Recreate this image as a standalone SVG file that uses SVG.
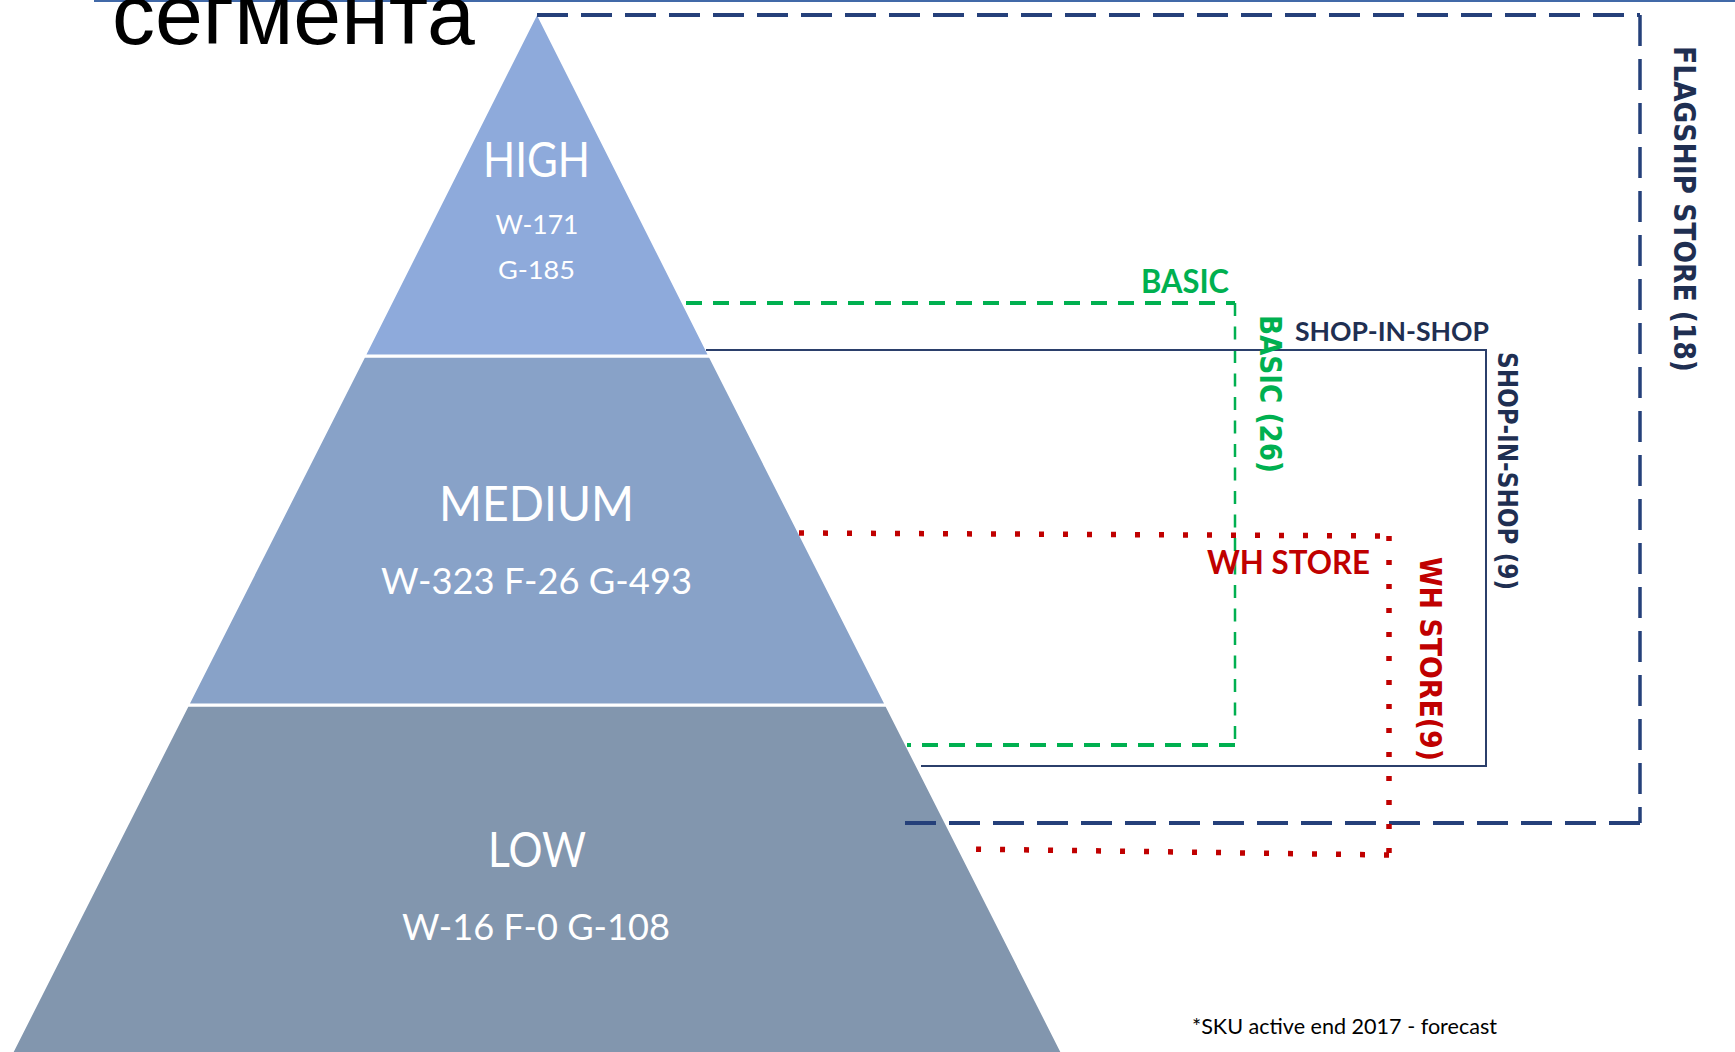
<svg xmlns="http://www.w3.org/2000/svg" width="1735" height="1052" viewBox="0 0 1735 1052">
  <style>
    .lvl { fill: #ffffff; font-family: Lato, "Open Sans", "DejaVu Sans", sans-serif; text-anchor: middle; }
    .lbl { font-family: Lato, "Open Sans", "DejaVu Sans", sans-serif; font-weight: bold; }
    .vlbl { font-family: "DejaVu Sans", Verdana, sans-serif; font-weight: bold; }
    .green { fill: #00B050; }
    .red { fill: #C00000; }
    .navy { fill: #1F2F52; }
    .layer { stroke: #ffffff; stroke-width: 3; }
  </style>
  <rect width="1735" height="1052" fill="#ffffff"/>

  <!-- title fragment and top rule -->
  <line x1="94" y1="1" x2="1735" y2="1" stroke="#4169A8" stroke-width="2"/>
  <text x="112" y="44" font-family="'Liberation Sans', Arial, sans-serif" font-size="86" fill="#000000">сегмента</text>

  <!-- pyramid -->
  <g id="low">
    <polygon class="layer" fill="#8296AE" points="187.5,705 886.5,705 1063,1054 11,1054"/>
    <text class="lvl" x="537" y="867" font-size="48" textLength="98" lengthAdjust="spacingAndGlyphs">LOW</text>
    <text class="lvl" x="536" y="940" font-size="37" textLength="268" lengthAdjust="spacingAndGlyphs">W-16 F-0 G-108</text>
  </g>
  <g id="medium">
    <polygon class="layer" fill="#88A2C8" points="364,356 710,356 886.5,705 187.5,705"/>
    <text class="lvl" x="536.5" y="521" font-size="49" textLength="195" lengthAdjust="spacingAndGlyphs">MEDIUM</text>
    <text class="lvl" x="536.5" y="594" font-size="37" textLength="311" lengthAdjust="spacingAndGlyphs">W-323 F-26 G-493</text>
  </g>
  <g id="high">
    <polygon class="layer" fill="#8EAADB" points="537,12 710,356 364,356"/>
    <text class="lvl" x="536.5" y="177" font-size="48.5" textLength="107" lengthAdjust="spacingAndGlyphs">HIGH</text>
    <text class="lvl" x="537" y="234" font-size="26.5" textLength="83" lengthAdjust="spacingAndGlyphs">W-171</text>
    <text class="lvl" x="536.5" y="279" font-size="25.5" textLength="77" lengthAdjust="spacingAndGlyphs">G-185</text>
  </g>

  <!-- connectors -->
  <g id="connectors" fill="none">
    <!-- FLAGSHIP STORE -->
    <g id="flagship" stroke="#25407A">
      <path d="M537,15 H1640" stroke-width="4" stroke-dasharray="31 13"/>
      <path d="M1640,15 V823" stroke-width="3.5" stroke-dasharray="31 13"/>
      <path d="M1640,823 H905" stroke-width="4" stroke-dasharray="31 13"/>
    </g>
    <!-- BASIC -->
    <g id="basic" stroke="#00B050">
      <path d="M686,303 H1235" stroke-width="4" stroke-dasharray="16 11"/>
      <path d="M1235,303 V745" stroke-width="2.5" stroke-dasharray="13 10.5"/>
      <path d="M1235,745 H907" stroke-width="4" stroke-dasharray="16 11"/>
    </g>
    <!-- SHOP-IN-SHOP -->
    <path id="shop-in-shop" d="M706,350 H1486 V766 H921" stroke="#2B3F6B" stroke-width="2"/>
    <!-- WH STORE -->
    <g id="wh-store" stroke="#C00000" stroke-width="5.5" stroke-dasharray="5 19">
      <path d="M799,533 L1389,536"/>
      <path d="M1389,536 V855"/>
      <path d="M1389,855 L965,849"/>
    </g>
  </g>

  <!-- connector labels -->
  <g id="connector-labels">
    <text class="lbl green" x="1141" y="293" font-size="32" textLength="88" lengthAdjust="spacingAndGlyphs">BASIC</text>
    <text class="lbl navy" x="1295" y="341" font-size="26.5" textLength="194" lengthAdjust="spacingAndGlyphs">SHOP-IN-SHOP</text>
    <text class="lbl red" x="1207" y="574" font-size="33" textLength="163" lengthAdjust="spacingAndGlyphs">WH STORE</text>

    <text class="vlbl green" font-size="31" transform="translate(1260,315) rotate(90)" textLength="158" lengthAdjust="spacingAndGlyphs">BASIC (26)</text>
    <text class="vlbl navy" font-size="26" transform="translate(1498,352) rotate(90)" textLength="238" lengthAdjust="spacingAndGlyphs">SHOP-IN-SHOP (9)</text>
    <text class="vlbl red" font-size="31" transform="translate(1420,557) rotate(90)" textLength="204" lengthAdjust="spacingAndGlyphs">WH STORE(9)</text>
    <text class="vlbl navy" font-size="31" transform="translate(1674,46) rotate(90)" textLength="326" lengthAdjust="spacingAndGlyphs">FLAGSHIP STORE (18)</text>
  </g>

  <!-- footnote -->
  <text x="1192" y="1034" font-family="Lato, 'Open Sans', sans-serif" font-size="21" fill="#000000" textLength="305" lengthAdjust="spacingAndGlyphs">*SKU active end 2017 - forecast</text>
</svg>
